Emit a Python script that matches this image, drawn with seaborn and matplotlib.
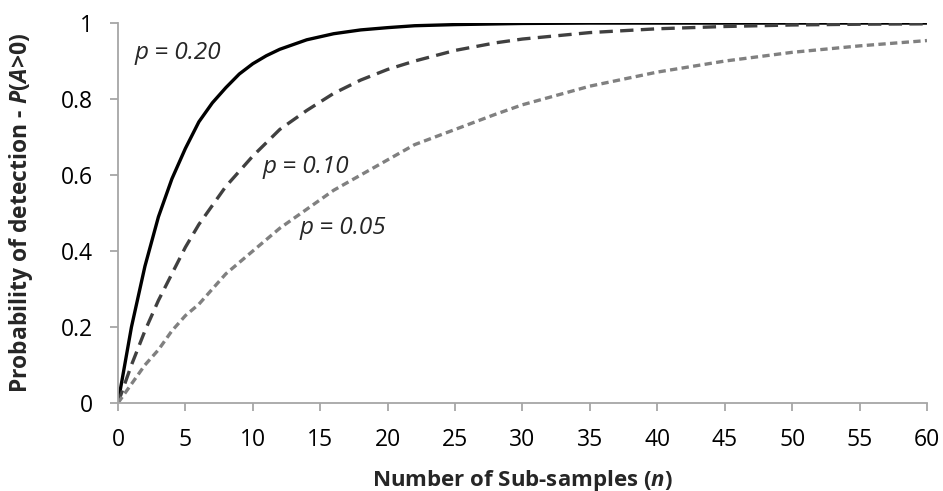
import matplotlib
matplotlib.use("Agg")
import matplotlib.pyplot as plt
import seaborn as sns
import pandas as pd

# Values
n_20 = [0, 1, 2, 3, 4, 5, 6, 7, 8, 9, 10, 11, 12, 14, 16, 18, 20, 22, 25, 30, 35, 40, 45, 50, 55, 60]
p_20 = [0, 0.20, 0.36, 0.49, 0.59, 0.67, 0.74, 0.79, 0.83, 0.866, 0.893, 0.914, 0.931, 0.956, 0.972, 0.982, 0.988, 0.993, 0.996, 0.999, 1.0, 1.0, 1.0, 1.0, 1.0, 1.0]

n_10 = [0, 1, 2, 3, 4, 5, 6, 7, 8, 9, 10, 12, 14, 16, 18, 20, 22, 25, 28, 30, 35, 40, 45, 50, 55, 60]
p_10 = [0, 0.10, 0.19, 0.27, 0.34, 0.41, 0.47, 0.52, 0.57, 0.61, 0.65, 0.72, 0.77, 0.815, 0.85, 0.878, 0.90, 0.928, 0.948, 0.958, 0.975, 0.985, 0.991, 0.995, 0.997, 0.998]

n_05 = [0, 1, 2, 3, 4, 5, 6, 7, 8, 10, 12, 14, 16, 18, 20, 22, 25, 28, 30, 35, 40, 45, 50, 55, 60]
p_05 = [0, 0.05, 0.10, 0.14, 0.19, 0.23, 0.26, 0.30, 0.34, 0.40, 0.46, 0.51, 0.56, 0.60, 0.64, 0.68, 0.72, 0.76, 0.785, 0.834, 0.871, 0.90, 0.923, 0.94, 0.954]

series_labels = ["p = 0.20", "p = 0.10", "p = 0.05"]
x_ticks = [0, 5, 10, 15, 20, 25, 30, 35, 40, 45, 50, 55, 60]
y_ticks = [0, 0.2, 0.4, 0.6, 0.8, 1.0]
y_tick_labels = ["0", "0.2", "0.4", "0.6", "0.8", "1"]

sns.set_theme(style="white")
plt.rcParams["font.family"] = ["Open Sans", "DejaVu Sans"]
plt.rcParams["mathtext.fontset"] = "custom"
plt.rcParams["mathtext.it"] = "Open Sans:italic:bold"
plt.rcParams["mathtext.rm"] = "Open Sans:bold"
plt.rcParams["mathtext.bf"] = "Open Sans:bold"

df = pd.concat([
    pd.DataFrame({"n": n_20, "P": p_20, "s": series_labels[0]}),
    pd.DataFrame({"n": n_10, "P": p_10, "s": series_labels[1]}),
    pd.DataFrame({"n": n_05, "P": p_05, "s": series_labels[2]}),
])

fig = plt.figure(figsize=(9.43, 4.91), dpi=100)
ax = fig.add_axes([0.1251, 0.1792, 0.983 - 0.1251, 0.953 - 0.1792])

styles = {
    series_labels[0]: dict(color="#000000", dashes=None),
    series_labels[1]: dict(color="#404040", dashes=(4.0, 2.2)),
    series_labels[2]: dict(color="#808080", dashes=(2.2, 1.3)),
}
for lab in series_labels:
    sub = df[df["s"] == lab]
    st = styles[lab]
    sns.lineplot(data=sub, x="n", y="P", ax=ax, color=st["color"], linewidth=2.4,
                 legend=False, estimator=None, sort=True)
    ln = ax.get_lines()[-1]
    if st["dashes"] is not None:
        ln.set_dashes(st["dashes"])
    ln.set_solid_capstyle("butt")
    ln.set_dash_capstyle("butt")

ax.set_xlim(0, 60)
ax.set_ylim(0, 1)
ax.set_xticks(x_ticks)
ax.set_xticklabels([str(t) for t in x_ticks])
ax.set_yticks(y_ticks)
ax.set_yticklabels(y_tick_labels)

for side in ["top", "right"]:
    ax.spines[side].set_visible(False)
for side in ["left", "bottom"]:
    ax.spines[side].set_color("#A6A6A6")
    ax.spines[side].set_linewidth(1.3)

ax.tick_params(axis="both", which="major", direction="out", length=6, width=1.3,
               color="#A6A6A6", labelsize=16.5, labelcolor="#000000",
               left=True, bottom=True)
ax.tick_params(axis="y", pad=12)
ax.tick_params(axis="x", pad=12)

ax.set_xlabel("Number of Sub-samples ($\\mathit{n}$)", fontsize=16, fontweight="bold")
ax.set_ylabel("Probability of detection - $\\mathit{P(A\\!>\\!0)}$", fontsize=16.5, fontweight="bold")
ax.xaxis.set_label_coords(0.5, -0.17)
ax.yaxis.set_label_coords(-0.103, 0.5)

ax.text(1.2, 0.92, series_labels[0], fontsize=17.5, fontstyle="italic", va="center", ha="left")
ax.text(10.7, 0.62, series_labels[1], fontsize=17.5, fontstyle="italic", va="center", ha="left")
ax.text(13.5, 0.46, series_labels[2], fontsize=17.5, fontstyle="italic", va="center", ha="left")

ax.set_facecolor("white")
fig.patch.set_facecolor("white")
fig.savefig("out.png", dpi=100)
